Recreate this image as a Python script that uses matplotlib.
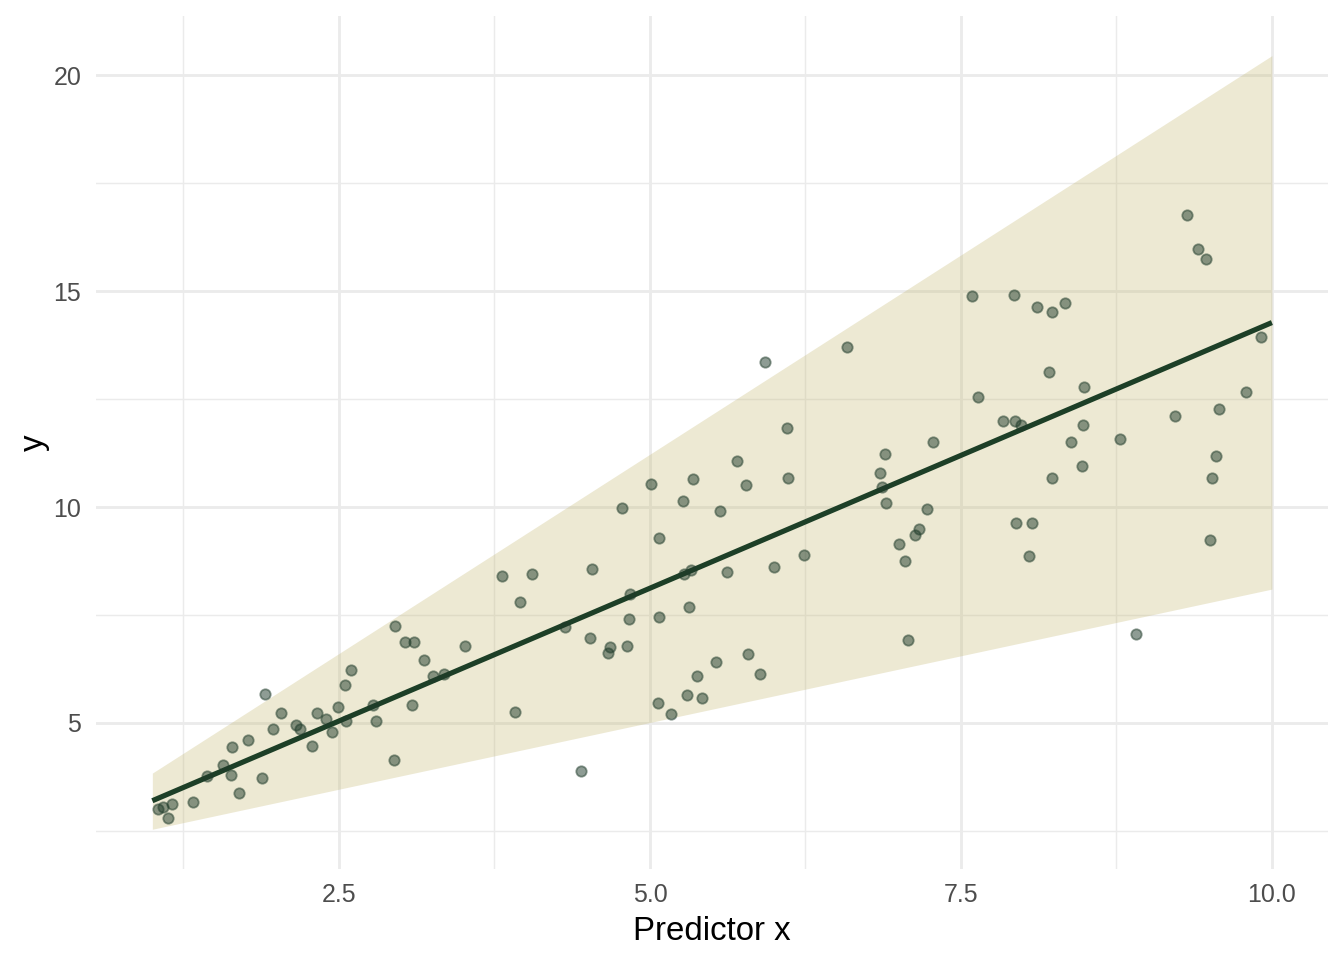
import numpy as np
from matplotlib import pyplot as plt
from matplotlib.ticker import MultipleLocator

plt.rcParams['font.family'] = ['Liberation Sans', 'DejaVu Sans']

x_obs = [1.047, 1.083, 1.155, 1.126, 1.326, 1.441, 1.570, 1.632, 1.637, 1.696,
         1.768, 1.883, 1.908, 1.967, 2.034, 2.154, 2.189, 2.281, 2.326, 2.393,
         2.446, 2.490, 2.554, 2.546, 2.599, 2.776, 2.797, 2.945, 2.953, 3.028,
         3.103, 3.089, 3.186, 3.253, 3.346, 3.513, 3.813, 3.953, 3.917, 4.051,
         4.317, 4.448, 4.515, 4.531, 4.665, 4.676, 4.777, 4.818, 4.834, 4.840,
         5.008, 5.070, 5.070, 5.067, 5.169, 5.263, 5.273, 5.330, 5.312, 5.296,
         5.348, 5.375, 5.416, 5.528, 5.560, 5.617, 5.697, 5.769, 5.790, 5.882,
         5.927, 6.001, 6.099, 6.109, 6.236, 6.581, 6.849, 6.865, 6.892, 6.900,
         7.002, 7.048, 7.072, 7.133, 7.160, 7.224, 7.275, 7.588, 7.638, 7.839,
         7.936, 7.982, 7.924, 7.946, 8.068, 8.047, 8.113, 8.231, 8.333, 8.207,
         8.235, 8.387, 8.470, 8.480, 8.492, 8.776, 8.910, 9.220, 9.317, 9.405,
         9.469, 9.502, 9.515, 9.548, 9.578, 9.793, 9.916]
y_obs = [3.00, 3.06, 3.12, 2.80, 3.18, 3.77, 4.03, 3.79, 4.45, 3.39,
         4.61, 3.73, 5.67, 4.87, 5.24, 4.95, 4.85, 4.47, 5.23, 5.09,
         4.79, 5.38, 5.05, 5.88, 6.23, 5.41, 5.05, 4.15, 7.24, 6.88,
         6.875, 5.41, 6.46, 6.08, 6.13, 6.79, 8.40, 7.81, 5.26, 8.44,
         7.22, 3.90, 6.97, 8.57, 6.63, 6.75, 9.98, 6.78, 7.41, 7.99,
         10.53, 9.28, 7.45, 5.46, 5.21, 10.15, 8.44, 8.54, 7.69, 5.65,
         10.64, 6.09, 5.59, 6.42, 9.90, 8.49, 11.07, 10.50, 6.60, 6.13,
         13.36, 8.62, 11.84, 10.68, 8.88, 13.70, 10.79, 10.47, 11.23, 10.09,
         9.14, 8.74, 6.92, 9.35, 9.49, 9.95, 11.50, 14.88, 12.55, 11.98,
         12.00, 11.90, 14.91, 9.64, 9.64, 8.87, 14.63, 14.51, 14.73, 13.13,
         10.68, 11.50, 10.94, 11.91, 12.79, 11.57, 7.07, 12.11, 16.77, 15.97,
         15.74, 9.24, 10.68, 11.17, 12.27, 12.66, 13.94]

# fitted line and band
fit_x = [1.0, 10.0]
fit_y = [3.20, 14.27]
band_lower = [2.54, 8.10]
band_upper = [3.84, 20.45]

x_ticks = [2.5, 5.0, 7.5, 10.0]
x_tick_labels = ['2.5', '5.0', '7.5', '10.0']
y_ticks = [5, 10, 15, 20]
y_tick_labels = ['5', '10', '15', '20']

fig = plt.figure(figsize=(1344 / 144, 960 / 144), dpi=144)
ax = fig.add_axes([0.0717, 0.0948, 0.988 - 0.0717, 0.983 - 0.0948])

ax.fill_between(fit_x, band_lower, band_upper, color='#C4B76F', alpha=0.3,
                linewidth=0, zorder=2)
ax.plot(fit_x, fit_y, color='#1D3F27', linewidth=2.6, solid_capstyle='butt', zorder=3)
ax.scatter(x_obs, y_obs, s=27, color='#1F3B2A', alpha=0.5, linewidths=0.9,
           zorder=4)

ax.set_xlim(0.55, 10.45)
ax.set_ylim(1.62, 21.36)
ax.set_xticks(x_ticks)
ax.set_xticklabels(x_tick_labels)
ax.set_yticks(y_ticks)
ax.set_yticklabels(y_tick_labels)
ax.xaxis.set_minor_locator(MultipleLocator(1.25))
ax.yaxis.set_minor_locator(MultipleLocator(2.5))

# minimal theme look
ax.set_axisbelow(True)
ax.grid(which='major', color='#EBEBEB', linewidth=1.42)
ax.grid(which='minor', color='#EBEBEB', linewidth=0.71)
for s in ax.spines.values():
    s.set_visible(False)
ax.tick_params(which='both', length=0, labelsize=12.5, colors='#4D4D4D')
ax.tick_params(axis='x', pad=7)
ax.tick_params(axis='y', pad=7.5)

ax.set_xlabel('Predictor x', fontsize=16.5, color='black', labelpad=4.5)
ax.set_ylabel('y', fontsize=16.5, color='black', labelpad=2)

fig.savefig('out.png', dpi=144, facecolor='white')
